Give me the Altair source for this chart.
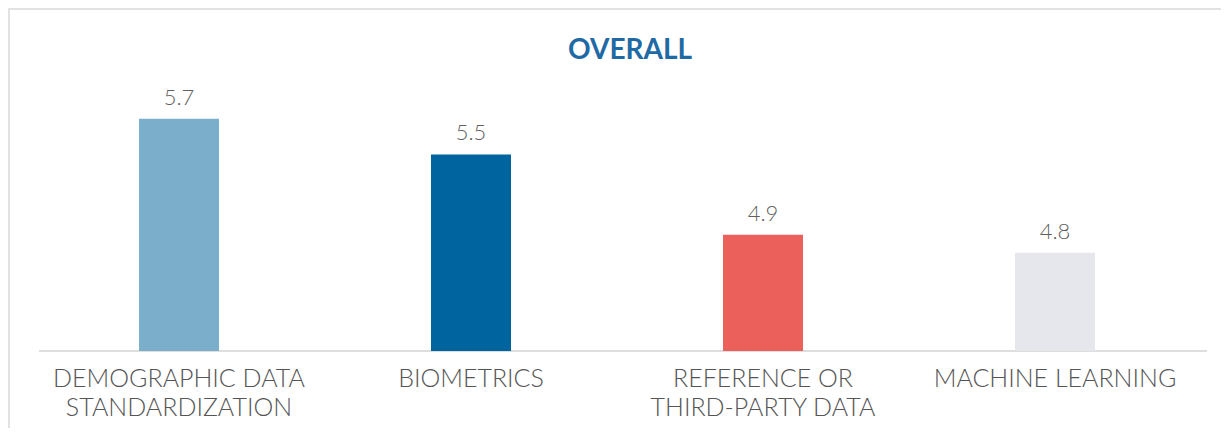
import json
import altair as alt
import pandas as pd

title_text = "OVERALL"
categories = [
    "DEMOGRAPHIC DATA STANDARDIZATION",
    "BIOMETRICS",
    "REFERENCE OR THIRD-PARTY DATA",
    "MACHINE LEARNING",
]
label_lines = [
    ["DEMOGRAPHIC DATA", "STANDARDIZATION"],
    ["BIOMETRICS"],
    ["REFERENCE OR", "THIRD-PARTY DATA"],
    ["MACHINE LEARNING"],
]
values = [5.70, 5.46, 4.92, 4.80]
colors = ["#7aaecb", "#00649f", "#ec605b", "#e6e7ec"]
y_min = 4.14
y_max = 5.96

df = pd.DataFrame({"category": categories, "value": values, "color": colors})
title_df = pd.DataFrame({"t": [title_text]})
label_map = json.dumps(dict(zip(categories, label_lines)))

FONT = "Lato"

x = alt.X(
    "category:N",
    sort=categories,
    title=None,
    scale=alt.Scale(paddingInner=0, paddingOuter=0),
    axis=alt.Axis(
        labelAngle=0,
        labelFont=FONT,
        labelFontSize=25,
        labelFontWeight=300,
        labelColor="#555555",
        labelPadding=15,
        labelLineHeight=29,
        labelExpr=f"{label_map}[datum.label]",
        ticks=False,
        domain=False,
        labelLimit=400,
    ),
)
y = alt.Y(
    "value:Q",
    scale=alt.Scale(domain=[y_min, y_max], zero=False, nice=False),
    axis=None,
)

baseline = alt.Chart(title_df).mark_rule(color="#dedede", strokeWidth=2).encode(
    x=alt.value(6), x2=alt.value(1174), y=alt.value(271)
)

bars = alt.Chart(df).mark_bar(size=80).encode(
    x=x, y=y, y2=alt.Y2(datum=y_min), color=alt.Color("color:N", scale=None)
)
texts = alt.Chart(df).mark_text(
    font=FONT, fontSize=22, fontWeight=300, color="#5f5f5f",
    baseline="alphabetic", dy=-14
).encode(x=x, y=y, text=alt.Text("value:Q", format=".1f"))

title_mark = alt.Chart(title_df).mark_text(
    font=FONT, fontSize=28, fontWeight="bold", color="#1f6aa5",
    baseline="alphabetic", align="center"
).encode(x=alt.value(597), y=alt.value(-21), text="t:N")

border_top = alt.Chart(title_df).mark_rule(color="#e2e2e2", strokeWidth=2).encode(
    x=alt.value(-25), x2=alt.value(1200), y=alt.value(-71)
)
border_left = alt.Chart(title_df).mark_rule(color="#e2e2e2", strokeWidth=2).encode(
    x=alt.value(-24), y=alt.value(-72), y2=alt.value(348)
)

chart = (
    alt.layer(border_top, border_left, title_mark, baseline, bars, texts)
    .properties(
        width=1168,
        height=271,
        background="white",
        padding={"left": 25, "top": 72, "right": 20, "bottom": 77},
        autosize=alt.AutoSizeParams(type="none"),
    )
    .configure_view(stroke="transparent", strokeWidth=0)
)

chart.save("out.html", embed_options={"renderer": "svg", "actions": False})
